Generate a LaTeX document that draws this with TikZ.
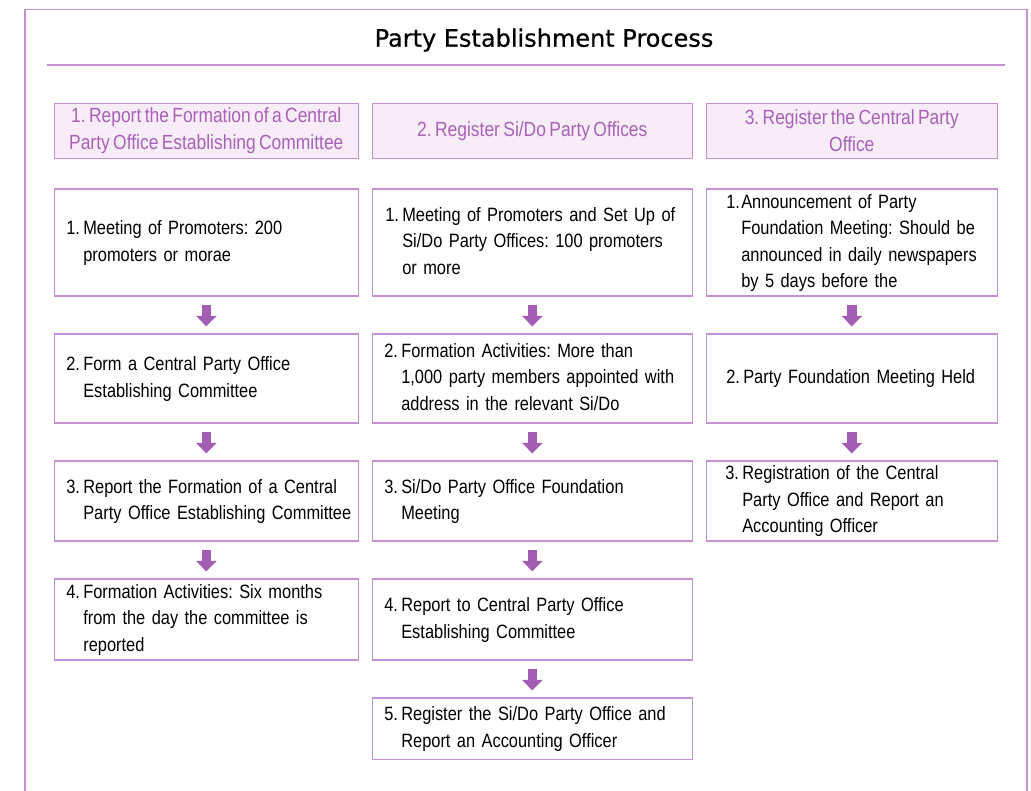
\documentclass[tikz,border=0pt]{standalone}
\usepackage{fontspec}
\usetikzlibrary{arrows.meta}
\setmainfont{Liberation Sans}
\newfontfamily\condensed{Liberation Sans}[FakeStretch=0.85, WordSpace=0.7]
\newfontfamily\titlefont{DejaVu Sans}[FakeBold=0.6]

\definecolor{lineviolet}{RGB}{196,146,210}
\definecolor{arrowviolet}{RGB}{162,94,178}
\definecolor{headviolet}{RGB}{168,98,184}
\definecolor{headfill}{RGB}{247,236,248}

% numbered step text: left offset, hanging indent, number, lines
\newcommand{\stepitem}[4]{\hspace*{#1}\makebox[#2][l]{#3}\begin{tabular}[t]{@{}l@{}}#4\end{tabular}}

\tikzset{
  frameline/.style={draw=lineviolet, line width=1.5pt},
  headbox/.style={draw=lineviolet, fill=headfill, line width=1.2pt,
    text=headviolet, align=center, inner sep=0pt,
    font=\condensed\frenchspacing\fontsize{20.5}{27.3}\selectfont, minimum height=55pt},
  stepbox/.style={draw=lineviolet, line width=1.2pt, inner sep=0pt,
    align=left, font=\condensed\frenchspacing\fontsize{19.3}{26.5}\selectfont},
  flowarrow/.style={draw=arrowviolet, line width=9.5pt,
    -{Triangle[width=20pt,length=10.5pt]}},
}

\begin{document}
\begin{tikzpicture}[x=1pt,y=-1pt]
\useasboundingbox (0,0) rectangle (1031,791);

% outer frame, open at the bottom
\draw[frameline] (25,800) -- (25,9.5) -- (1027,9.5) -- (1027,800);

% title and rule
\node[anchor=base, font=\titlefont\fontsize{24}{28}\selectfont] (title) at (544,46.7) {Party Establishment Process};
\draw[draw=lineviolet, line width=1.2pt] (47,65) -- (1005,65);

% column headers
\node[headbox, minimum width=304pt] (h1) at (206.3,131) {1. Report the Formation of a Central\\ Party Office Establishing Committee};
\node[headbox, minimum width=320pt] (h2) at (532.3,131) {2. Register Si/Do Party Offices};
\node[headbox, minimum width=291pt] (h3) at (851.8,131) {3. Register the Central Party\\ Office};

% column 1
\node[stepbox, text width=304pt, minimum height=107pt] (a1) at (206.3,242.5)
  {\stepitem{12pt}{17pt}{1.}{Meeting of Promoters: 200\\ promoters or morae}};
\node[stepbox, text width=304pt, minimum height=89pt] (a2) at (206.3,378.5)
  {\stepitem{12pt}{17pt}{2.}{Form a Central Party Office\\ Establishing Committee}};
\node[stepbox, text width=304pt, minimum height=80pt] (a3) at (206.3,501)
  {\stepitem{12pt}{17pt}{3.}{Report the Formation of a Central\\ Party Office Establishing Committee}};
\node[stepbox, text width=304pt, minimum height=81pt] (a4) at (206.3,619.5)
  {\stepitem{12pt}{17pt}{4.}{Formation Activities: Six months\\ from the day the committee is\\ reported}};

% column 2
\node[stepbox, text width=320pt, minimum height=107pt] (b1) at (532.3,242.5)
  {\stepitem{13pt}{17pt}{1.}{Meeting of Promoters and Set Up of\\ Si/Do Party Offices: 100 promoters\\ or more}};
\node[stepbox, text width=320pt, minimum height=89pt] (b2) at (532.3,378.5)
  {\stepitem{12pt}{17pt}{2.}{Formation Activities: More than\\ 1,000 party members appointed with\\ address in the relevant Si/Do}};
\node[stepbox, text width=320pt, minimum height=80pt] (b3) at (532.3,501)
  {\stepitem{12pt}{17pt}{3.}{Si/Do Party Office Foundation\\ Meeting}};
\node[stepbox, text width=320pt, minimum height=81pt] (b4) at (532.3,619.5)
  {\stepitem{12pt}{17pt}{4.}{Report to Central Party Office\\ Establishing Committee}};
\node[stepbox, text width=320pt, minimum height=61.5pt] (b5) at (532.3,728.75)
  {\stepitem{12pt}{17pt}{5.}{Register the Si/Do Party Office and\\ Report an Accounting Officer}};

% column 3
\node[stepbox, text width=291pt, minimum height=107pt] (c1) at (851.8,242.5)
  {\stepitem{20pt}{15pt}{1.}{Announcement of Party\\ Foundation Meeting: Should be\\ announced in daily newspapers\\ by 5 days before the}};
\node[stepbox, text width=291pt, minimum height=89pt] (c2) at (851.8,378.5)
  {\stepitem{20pt}{17pt}{2.}{Party Foundation Meeting Held}};
\node[stepbox, text width=291pt, minimum height=80pt] (c3) at (851.8,501)
  {\stepitem{19pt}{17pt}{3.}{Registration of the Central\\ Party Office and Report an\\ Accounting Officer}};

% flow arrows
\foreach \u/\v in {a1/a2, a2/a3, a3/a4, b1/b2, b2/b3, b3/b4, b4/b5, c1/c2, c2/c3}
  \draw[flowarrow] ([yshift=-8pt]\u.south) -- ([yshift=7pt]\v.north);
\end{tikzpicture}
\end{document}
